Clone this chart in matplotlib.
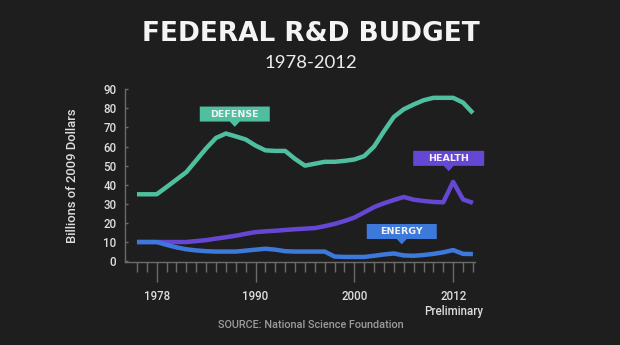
import numpy as np
import matplotlib
matplotlib.use('Agg')
import matplotlib.pyplot as plt
from matplotlib.patches import Polygon
from matplotlib.transforms import ScaledTranslation

years = list(range(1978, 2013))
defense = [35, 35, 35, 38.8, 42.7, 46.6, 52.8, 59, 64.5, 66.8, 65.3, 63.7, 60.5, 58, 57.7,
           57.7, 53.5, 50, 51, 52, 52, 52.5, 53.2, 55, 60, 68, 75.5, 79.5, 82, 84.2, 85.5,
           85.5, 85.5, 83, 77.5]
health = [10, 10, 10, 10, 10, 10, 10.5, 11, 11.8, 12.5, 13.3, 14.3, 15.2, 15.6, 15.9, 16.3,
          16.7, 17, 17.3, 18.3, 19.5, 21, 22.8, 25.5, 28.3, 30.3, 32, 33.6, 32.2, 31.5, 31,
          30.8, 41.5, 32.3, 30.5]
energy = [10, 10, 10, 8.5, 7.2, 6.2, 5.6, 5.2, 5.0, 5.0, 5.0, 5.5, 6.0, 6.5, 6.0, 5.2, 5.0,
          5.0, 5.0, 5.0, 2.4, 2.2, 2.2, 2.2, 2.8, 3.5, 4.0, 3.0, 2.8, 3.2, 3.8, 4.6, 5.8, 3.8, 3.7]
major_years = [1980, 1990, 2000, 2010]
major_labels = ['1978', '1990', '2000', '2012\nPreliminary']
y_ticks = list(range(0, 91, 10))

BG = '#1e1e1e'; TEAL = '#4fbf9f'; PURPLE = '#6547d4'; BLUE = '#3d79da'
AX = '#6b6b6b'; TXT = '#dedede'

fig = plt.figure(figsize=(6.2, 3.45), dpi=100, facecolor=BG)
ax = fig.add_axes([0.2021, 0.242, 0.564, 0.4994], facecolor=BG)

ax.plot(years, defense, color=TEAL, lw=3.2, solid_capstyle='butt', zorder=3)
ax.plot(years, health, color=PURPLE, lw=3.2, solid_capstyle='butt', zorder=3)
ax.plot(years, energy, color=BLUE, lw=3.2, solid_capstyle='butt', zorder=4)

ax.set_xlim(1976.82, 2012.21)
ax.set_ylim(-0.2, 90)
for s in ('top', 'right'):
    ax.spines[s].set_visible(False)
for s in ('left', 'bottom'):
    ax.spines[s].set_color(AX)
    ax.spines[s].set_linewidth(1.0)

ax.set_yticks(y_ticks)
ax.tick_params(axis='y', direction='in', length=2.5, width=1, color=AX, pad=6.5,
               labelsize=8.3, labelcolor=TXT)
ax.set_xticks(years, minor=True)
ax.set_xticks(major_years, major_labels)
ax.tick_params(axis='x', which='minor', direction='out', length=7.2, width=1, color=AX)
ax.tick_params(axis='x', which='major', direction='out', length=14.4, width=1, color=AX,
               pad=6, labelsize=8.3, labelcolor=TXT)
for lab in ax.get_xticklabels() + ax.get_yticklabels():
    lab.set_fontfamily('Roboto')
    lab.set_fontweight('medium')
ax.set_ylabel('Billions of 2009 Dollars', color=TXT, fontsize=9.4, family='Roboto',
              fontweight='medium', labelpad=17)


def callout(x, y, text, color, w=70, h=15, ph=5.3, pw=5):
    # box with a small pointer, sized in pixels, tip anchored at data point (x, y)
    tr = fig.dpi_scale_trans + ScaledTranslation(x, y, ax.transData)
    k = 1 / fig.dpi
    verts = np.array([(0, 0), (-pw, ph), (-w / 2, ph), (-w / 2, ph + h),
                      (w / 2, ph + h), (w / 2, ph), (pw, ph)]) * k
    ax.add_patch(Polygon(verts, closed=True, transform=tr, fc=color, ec='none',
                         clip_on=False, zorder=6))
    ax.text(0, (ph + h / 2) * k, text, transform=tr, ha='center', va='center',
            color='#f2f2f2', fontsize=6.8, fontweight='bold', family='DejaVu Sans',
            zorder=7, clip_on=False)


callout(1987.9, 70.3, 'DEFENSE', TEAL)
callout(2009.55, 47.1, 'HEALTH', PURPLE, w=71)
callout(2004.8, 8.8, 'ENERGY', BLUE)

fig.text(0.501, 0.902, 'FEDERAL R&D BUDGET', ha='center', va='center', color='#f4f4f4',
         fontsize=19, fontweight='bold', family='DejaVu Sans')
fig.text(0.501, 0.8165, '1978-2012', ha='center', va='center', color='#ececec',
         fontsize=13.3, fontweight='normal', family='Lato')
fig.text(0.501, 0.058, 'SOURCE: National Science Foundation', ha='center', va='center',
         color='#9c9c9c', fontsize=7.8, fontweight='medium', family='Roboto')

fig.savefig('out.png', dpi=100, facecolor=BG)
